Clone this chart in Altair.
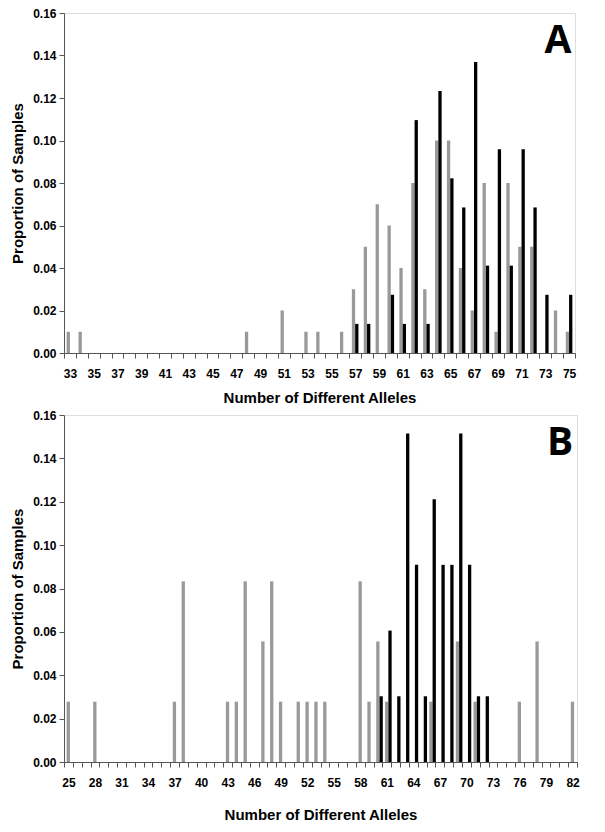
import altair as alt
import pandas as pd

# Panel A data
a_categories = list(range(33, 76))
a_gray_x = [33, 34, 48, 51, 53, 54, 56, 57, 58, 59, 60, 61, 62, 63, 64, 65, 66, 67, 68, 69, 70, 71, 72, 74, 75]
a_gray_y = [0.01, 0.01, 0.01, 0.02, 0.01, 0.01, 0.01, 0.03, 0.05, 0.07, 0.06, 0.04, 0.08, 0.03, 0.10, 0.10,
            0.04, 0.02, 0.08, 0.01, 0.08, 0.05, 0.05, 0.02, 0.01]
a_black_x = [57, 58, 60, 61, 62, 63, 64, 65, 66, 67, 68, 69, 70, 71, 72, 73, 75]
a_black_y = [0.0137, 0.0137, 0.0274, 0.0137, 0.1096, 0.0137, 0.1233, 0.0822, 0.0685, 0.1370, 0.0411,
             0.0959, 0.0411, 0.0959, 0.0685, 0.0274, 0.0274]

# Panel B data
b_categories = list(range(25, 83))
b_gray_x = [25, 28, 37, 38, 43, 44, 45, 47, 48, 49, 51, 52, 53, 54, 58, 59, 60, 61, 66, 69, 71, 76, 78, 82]
b_gray_y = [0.0278, 0.0278, 0.0278, 0.0833, 0.0278, 0.0278, 0.0833, 0.0556, 0.0833, 0.0278, 0.0278, 0.0278,
            0.0278, 0.0278, 0.0833, 0.0278, 0.0556, 0.0278, 0.0278, 0.0556, 0.0278, 0.0278, 0.0556, 0.0278]
b_black_x = [60, 61, 62, 63, 64, 65, 66, 67, 68, 69, 70, 71, 72]
b_black_y = [0.0303, 0.0606, 0.0303, 0.1515, 0.0909, 0.0303, 0.1212, 0.0909, 0.0909, 0.1515, 0.0909,
             0.0303, 0.0303]

y_ticks = [0.0, 0.02, 0.04, 0.06, 0.08, 0.10, 0.12, 0.14, 0.16]

GRAY = "#999999"
BLACK = "#000000"
AXIS = "#555555"
FONT = "Liberation Sans"


def frame(gx, gy, bx, by):
    rows = [{"n": x, "p": y, "s": "g"} for x, y in zip(gx, gy)]
    rows += [{"n": x, "p": y, "s": "b"} for x, y in zip(bx, by)]
    return pd.DataFrame(rows)


def panel(df, cats, label_expr, letter, w, h, title_pad):
    bars = alt.Chart(df).mark_bar().encode(
        x=alt.X("n:O", scale=alt.Scale(domain=cats, paddingInner=0, paddingOuter=0),
                axis=alt.Axis(title="Number of Different Alleles", labelAngle=0, labelExpr=label_expr,
                              tickBand="extent", tickSize=5, tickColor=AXIS, domainColor=AXIS,
                              labelFont=FONT, labelFontSize=12, labelFontWeight="bold", labelColor="#000",
                              labelPadding=10, titleFont=FONT, titleFontSize=15, titleFontWeight="bold",
                              titlePadding=title_pad, labelOverlap=False)),
        xOffset=alt.XOffset("s:N", scale=alt.Scale(domain=["g", "b"], paddingOuter=0.8, paddingInner=0)),
        y=alt.Y("p:Q", scale=alt.Scale(domain=[0, 0.16], nice=False),
                axis=alt.Axis(title="Proportion of Samples", values=y_ticks, format=".2f", grid=False,
                              tickSize=5, tickColor=AXIS, domainColor=AXIS, labelFont=FONT, labelFontSize=12,
                              labelFontWeight="bold", labelColor="#000", labelPadding=3, titleFont=FONT,
                              titleFontSize=15, titleFontWeight="bold", titlePadding=7)),
        color=alt.Color("s:N", scale=alt.Scale(domain=["g", "b"], range=[GRAY, BLACK]), legend=None),
    )
    lab = alt.Chart(pd.DataFrame({"t": [letter]})).mark_text(
        font="Open Sans", fontSize=39, fontWeight="bold", color="#000", align="center", baseline="middle"
    ).encode(text="t:N", x=alt.value(w - 17), y=alt.value(28))
    return alt.layer(bars, lab).properties(width=w, height=h)


dfa = frame(a_gray_x, a_gray_y, a_black_x, a_black_y)
dfb = frame(b_gray_x, b_gray_y, b_black_x, b_black_y)

pa = panel(dfa, a_categories, "datum.value % 2 == 1 ? datum.label : ''", "A", 511, 340, 11)
pb = panel(dfb, b_categories, "(datum.value - 25) % 3 == 0 ? datum.label : ''", "B", 513, 347, 19)

chart = alt.vconcat(pa, pb, spacing=2).properties(padding={"left": 2, "top": -2, "right": 0, "bottom": 0}) \
    .configure_view(stroke=None).configure(background="white")

chart.save("out.html", embed_options={"renderer": "svg", "actions": False})
